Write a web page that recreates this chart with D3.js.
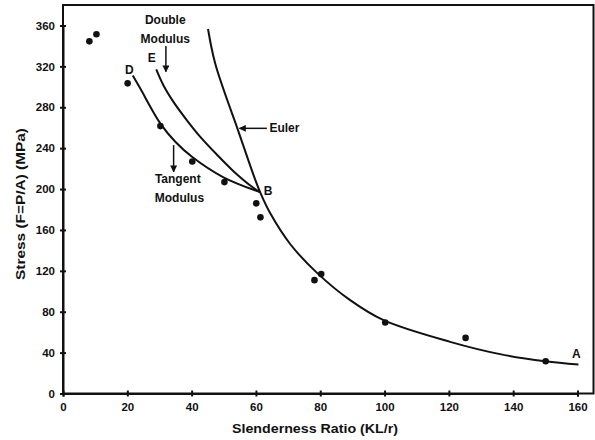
<!DOCTYPE html>
<html>
<head>
<meta charset="utf-8">
<script src="https://cdn.jsdelivr.net/npm/d3@7"></script>
<style>
  body { margin: 0; background: #fff; }
  text { font-family: "Liberation Sans", Arial, sans-serif; font-weight: bold; fill: #111; }
</style>
</head>
<body>
<div id="container"></div>
<script>
// test points and curves
const testX = [8.2, 10.4, 20.1, 30.3, 40.2, 50.2, 60.1, 61.4, 78.2, 80.3, 100.2, 125.2, 150.1]
const testY = [344.5, 351.4, 303.4, 261.6, 227, 206.8, 186, 172.3, 110.9, 116.8, 69.5, 54.4, 31.6]

const eulerX = [45.1, 47.4, 54.6, 59.8, 61.3, 64.5, 70.7, 79, 89.3, 99.7, 120.4, 135.9, 150, 160.3]
const eulerY = [356.6, 322, 256, 209, 197, 176, 146, 118, 91.3, 71.7, 50.5, 38.5, 31.6, 28.4]

const tangentX = [21.7, 24, 30.3, 35, 40.1, 49.9, 61.3]
const tangentY = [311, 298.5, 264, 246, 231.6, 211.5, 197]

const doubleX = [29, 31.3, 34.4, 38.6, 42.7, 47.9, 53, 59.3, 61.3]
const doubleY = [317, 301, 285, 267, 251, 233.5, 217.5, 201, 197]

const xTicks = [0, 20, 40, 60, 80, 100, 120, 140, 160]
const yTicks = [0, 40, 80, 120, 160, 200, 240, 280, 320, 360]

// constants
const width = 595,
  height = 440,
  margin = { top: 5, bottom: 46.5, left: 63, right: 1.5 }

const xScale = d3.scaleLinear()
  .domain([0, 160])
  .range([margin.left, 577.5])

const yScale = d3.scaleLinear()
  .domain([0, 360])
  .range([height - margin.bottom, 25.5])

const svg = d3.select("#container")
  .append("svg")
  .attr("width", width)
  .attr("height", height)

svg.append("defs").append("marker")
  .attr("id", "arrow")
  .attr("viewBox", "0 0 10 10")
  .attr("refX", 9)
  .attr("refY", 5)
  .attr("markerWidth", 7)
  .attr("markerHeight", 7)
  .attr("markerUnits", "userSpaceOnUse")
  .attr("orient", "auto")
  .append("path")
  .attr("d", "M0,0 L10,5 L0,10 Z")
  .attr("fill", "#111")

// frame
svg.append("rect")
  .attr("x", margin.left)
  .attr("y", margin.top)
  .attr("width", width - margin.right - margin.left)
  .attr("height", height - margin.bottom - margin.top)
  .attr("fill", "none")
  .attr("stroke", "#111")
  .attr("stroke-width", 2)

// axes
const xAxisGroup = svg.append("g")
  .attr("transform", `translate(0, ${height - margin.bottom})`)
  .call(d3.axisBottom(xScale).tickValues(xTicks).tickSize(3).tickPadding(6))

xAxisGroup.selectAll(".tick line").attr("y1", -3)

const yAxisGroup = svg.append("g")
  .attr("transform", `translate(${margin.left}, 0)`)
  .call(d3.axisLeft(yScale).tickValues(yTicks).tickSize(3).tickPadding(5))

yAxisGroup.selectAll(".tick line").attr("x1", 3)

svg.selectAll(".domain").attr("stroke", "#111").attr("stroke-width", 2)
svg.selectAll(".tick line").attr("stroke", "#111").attr("stroke-width", 2)
svg.selectAll(".tick text")
  .attr("font-size", 11.5)
  .attr("font-family", "Liberation Sans, Arial, sans-serif")
  .attr("font-weight", "bold")
  .attr("fill", "#111")

svg.append("text")
  .attr("x", 315)
  .attr("y", 433)
  .attr("text-anchor", "middle")
  .attr("font-size", 13.5)
  .attr("textLength", 166)
  .attr("lengthAdjust", "spacingAndGlyphs")
  .text("Slenderness Ratio (KL/r)")

svg.append("text")
  .attr("transform", `translate(${25}, ${204}) rotate(-90)`)
  .attr("text-anchor", "middle")
  .attr("font-size", 13.5)
  .attr("textLength", 152)
  .attr("lengthAdjust", "spacingAndGlyphs")
  .text("Stress (F=P/A) (MPa)")

// curves
const lineGen = d3.line()
  .x(d => xScale(d[0]))
  .y(d => yScale(d[1]))
  .curve(d3.curveCatmullRom.alpha(0.5))

const curves = [
  d3.zip(eulerX, eulerY),
  d3.zip(tangentX, tangentY),
  d3.zip(doubleX, doubleY)
]

svg.selectAll(".curve")
  .data(curves)
  .join("path")
  .attr("class", "curve")
  .attr("fill", "none")
  .attr("stroke", "#111")
  .attr("stroke-width", 2)
  .attr("d", d => lineGen(d))

// test points
svg.selectAll(".dot")
  .data(d3.zip(testX, testY))
  .join("circle")
  .attr("class", "dot")
  .attr("cx", d => xScale(d[0]))
  .attr("cy", d => yScale(d[1]))
  .attr("r", 3.3)
  .attr("fill", "#111")

// annotations (data units)
const labels = [
  { t: "Double", x: 31.8, y: 361.5, a: "middle" },
  { t: "Modulus", x: 31.8, y: 343.3, a: "middle" },
  { t: "E", x: 27.6, y: 324, a: "middle" },
  { t: "D", x: 20.6, y: 312.5, a: "middle" },
  { t: "Euler", x: 64.2, y: 255.7, a: "start" },
  { t: "Tangent", x: 35.7, y: 205.8, a: "middle" },
  { t: "Modulus", x: 36.2, y: 187.5, a: "middle" },
  { t: "B", x: 62.4, y: 194.1, a: "start" },
  { t: "A", x: 158.3, y: 35.2, a: "start" }
]

svg.selectAll(".label")
  .data(labels)
  .join("text")
  .attr("class", "label")
  .attr("x", d => xScale(d.x))
  .attr("y", d => yScale(d.y))
  .attr("text-anchor", d => d.a)
  .attr("font-size", 12)
  .text(d => d.t)

const arrows = [
  { x1: 32.0, y1: 339.9, x2: 32.0, y2: 314.8 },
  { x1: 63.4, y1: 259.4, x2: 54.9, y2: 259.4 },
  { x1: 34.4, y1: 243, x2: 34.4, y2: 216.9 }
]

svg.selectAll(".arrow")
  .data(arrows)
  .join("line")
  .attr("class", "arrow")
  .attr("x1", d => xScale(d.x1))
  .attr("y1", d => yScale(d.y1))
  .attr("x2", d => xScale(d.x2))
  .attr("y2", d => yScale(d.y2))
  .attr("stroke", "#111")
  .attr("stroke-width", 1.5)
  .attr("marker-end", "url(#arrow)")
</script>
</body>
</html>
